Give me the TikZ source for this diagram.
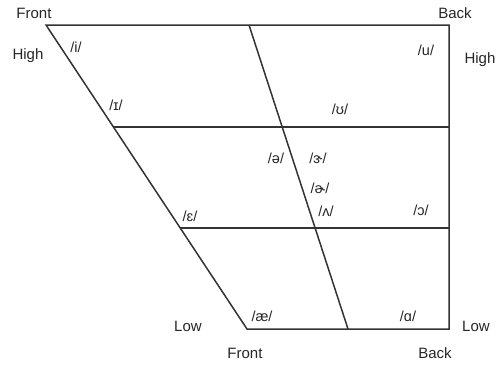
\documentclass[tikz,border=0pt]{standalone}
\usepackage{fontspec}
\setmainfont{Liberation Sans}
\begin{document}
\begin{tikzpicture}[x=1pt,y=-1pt,
  edge/.style={draw=black!80,line width=1.5pt},
  lbl/.style={font=\fontsize{15}{17}\selectfont,text=black!85,inner sep=0pt},
  ipa/.style={font=\fontsize{14.5}{16}\selectfont,text=black!85,inner sep=0pt}]
\useasboundingbox (0,0) rectangle (497,364);
% corners
\coordinate (TL) at (46,25);
\coordinate (TR) at (449,25);
\coordinate (BR) at (449,329);
\coordinate (BL) at (247,329);
\coordinate (MT) at (249,25);
\coordinate (MB) at (348,329);
\coordinate (H1L) at (113.4,127);
\coordinate (H1R) at (449,127);
\coordinate (H2L) at (180.2,228);
\coordinate (H2R) at (449,228);
\draw[edge,line join=miter] (TL) -- (TR) -- (BR) -- (BL) -- cycle;
\draw[edge] (MT) -- (MB);
\draw[edge] (H1L) -- (H1R);
\draw[edge] (H2L) -- (H2R);
% side labels
\node[lbl] (fronttop) at (34,13) {Front};
\node[lbl] (backtop) at (455,13) {Back};
\node[lbl] (highl) at (28,56) {High};
\node[lbl] (highr) at (480,60) {High};
\node[lbl] (lowl) at (188,326) {Low};
\node[lbl] (lowr) at (476,326) {Low};
\node[lbl] (frontbot) at (245,353) {Front};
\node[lbl] (backbot) at (435,353) {Back};
% vowels
\node[ipa] (i) at (76,47) {/i/};
\node[ipa] (I) at (116,105) {/ɪ/};
\node[ipa] (u) at (426,50) {/u/};
\node[ipa] (U) at (340,109) {/ʊ/};
\node[ipa] (schwa) at (276,158) {/ə/};
\node[ipa] (er) at (318,158) {/ɝ/};
\node[ipa] (schwar) at (320,188) {/ɚ/};
\node[ipa] (wedge) at (326,211) {/ʌ/};
\node[ipa] (open) at (421,210) {/ɔ/};
\node[ipa] (eps) at (190,216) {/ɛ/};
\node[ipa] (ae) at (262,316) {/æ/};
\node[ipa] (alpha) at (408,316) {/ɑ/};
\end{tikzpicture}
\end{document}
